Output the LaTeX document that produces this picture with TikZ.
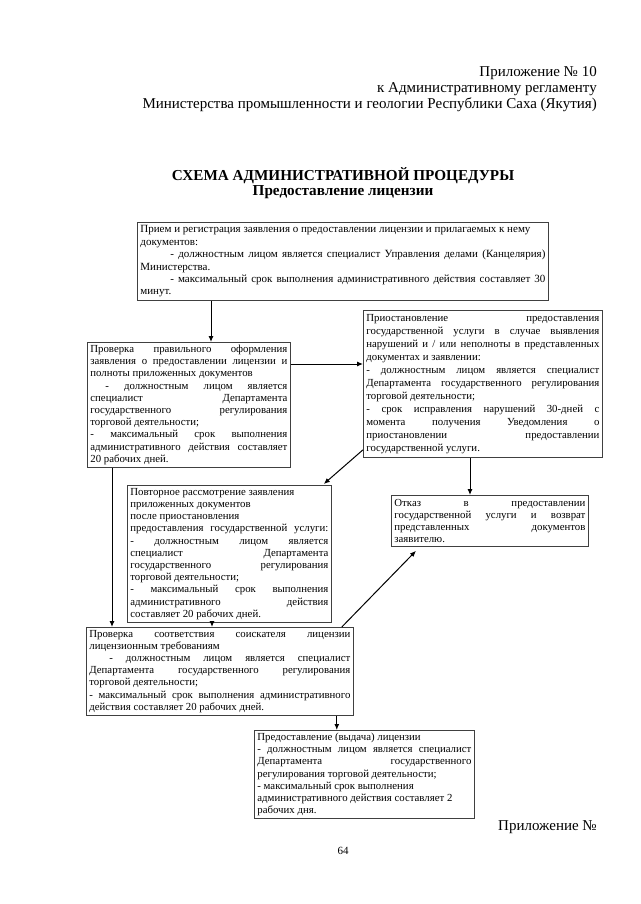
\documentclass[tikz,border=0pt]{standalone}
\usepackage{fontspec}
\setmainfont{Liberation Serif}
\usetikzlibrary{arrows.meta}
\newcommand{\jl}[1]{\makebox[\hsize][s]{\spaceskip=0pt\xspaceskip=0pt\relax #1}}
\begin{document}
\begin{tikzpicture}[x=1pt,y=-1pt,
  box/.style={draw=black!75, line width=0.8pt, anchor=north west, inner xsep=3pt, inner ysep=1pt, align=justify, font=\fontsize{10.8}{12.2}\selectfont},
  arr/.style={line width=1pt, -{Latex[length=6pt,width=5pt]}},
  head/.style={anchor=base east, inner sep=0pt, font=\fontsize{15}{16}\selectfont},
  ttl/.style={anchor=base, inner sep=0pt, font=\fontsize{15.2}{16}\selectfont\bfseries}]
\useasboundingbox (0,0) rectangle (640,904);
\fill[white] (0,0) rectangle (640,904);

\node[head] (h1) at (597,77) {Приложение № 10};
\node[head] (h2) at (597,93) {к Административному регламенту};
\node[head] (h3) at (597,109) {Министерства промышленности и геологии Республики Саха (Якутия)};

\node[ttl] (t1) at (343,180) {СХЕМА АДМИНИСТРАТИВНОЙ ПРОЦЕДУРЫ};
\node[ttl] (t2) at (343,196) {Предоставление лицензии};

\node[box, text width=405pt, minimum height=78pt, font=\fontsize{11}{12.4}\selectfont] (b1) at (137,222) {%
Прием и регистрация заявления  о предоставлении лицензии и прилагаемых к нему\\
документов:\\
\jl{\hspace*{30pt}- должностным лицом является специалист Управления делами (Канцелярия)}\\
Министерства.\\
\jl{\hspace*{30pt}- максимальный срок выполнения административного действия составляет 30}\\
минут.};

\node[box, text width=197pt, minimum height=125pt] (b2) at (87,342) {%
\jl{Проверка правильного оформления}\\
\jl{заявления о предоставлении лицензии и}\\
полноты приложенных документов\\
\jl{ - должностным лицом является}\\
\jl{специалист Департамента}\\
\jl{государственного регулирования}\\
торговой деятельности;\\
\jl{- максимальный срок выполнения}\\
\jl{административного действия составляет}\\
20 рабочих дней.};

\node[box, text width=233pt, minimum height=147pt, font=\fontsize{10.8}{13}\selectfont] (b3) at (363,310) {%
\jl{Приостановление предоставления}\\
\jl{государственной услуги в случае выявления}\\
\jl{нарушений и / или неполноты в представленных}\\
документах и заявлении:\\
\jl{-  должностным лицом является специалист}\\
\jl{Департамента государственного регулирования}\\
торговой деятельности;\\
\jl{- срок исправления нарушений 30-дней с}\\
\jl{момента получения Уведомления о}\\
\jl{приостановлении предоставлении}\\
государственной услуги.};

\node[box, text width=198pt, minimum height=137pt] (b4) at (127,485) {%
Повторное рассмотрение заявления\\
приложенных документов\\
после приостановления\\
\jl{предоставления государственной услуги:}\\
\jl{- должностным лицом является}\\
\jl{специалист Департамента}\\
\jl{государственного регулирования}\\
торговой деятельности;\\
\jl{- максимальный срок выполнения}\\
\jl{административного действия}\\
составляет 20 рабочих дней.};

\node[box, text width=191pt, minimum height=51pt] (b5) at (391,495) {%
\jl{Отказ в предоставлении}\\
\jl{государственной услуги и возврат}\\
\jl{представленных документов}\\
заявителю.};

\node[box, text width=261pt, minimum height=88pt] (b6) at (86,627) {%
\jl{Проверка соответствия соискателя лицензии}\\
лицензионным требованиям\\
\jl{\hspace*{20pt}- должностным лицом является специалист}\\
\jl{Департамента государственного регулирования}\\
торговой деятельности;\\
\jl{- максимальный срок выполнения административного}\\
действия составляет 20 рабочих дней.};

\node[box, text width=214pt, minimum height=88pt] (b7) at (254,730) {%
Предоставление (выдача)  лицензии\\
\jl{- должностным лицом является специалист}\\
\jl{Департамента государственного}\\
регулирования  торговой деятельности;\\
- максимальный срок выполнения\\
административного действия составляет 2\\
рабочих дня.};

\node[head] (h4) at (597,830) {Приложение №};
\node[anchor=base, inner sep=0pt, font=\fontsize{11}{12}\selectfont] (pg) at (343,854) {64};

\coordinate (p1) at ([xshift=74pt]b1.south west);
\coordinate (p2) at ([yshift=-22pt]b2.north east);
\coordinate (p3) at ([yshift=8pt]b3.south west);
\coordinate (p4) at ([xshift=-8pt,yshift=1pt]b4.north east);
\coordinate (p5) at ([xshift=107pt]b3.south west);
\coordinate (p6) at ([xshift=25pt]b2.south west);
\coordinate (p7) at ([xshift=85pt]b4.south west);
\coordinate (p8) at ([xshift=-12pt]b6.north east);
\coordinate (p9) at ([xshift=25pt,yshift=-4pt]b5.south west);
\coordinate (p10) at ([xshift=-17pt]b6.south east);

\draw[arr] (p1) -- (p1 |- b2.north);
\draw[arr] (p2) -- (p2 -| b3.west);
\draw[arr] (p3) -- (p4);
\draw[arr] (p5) -- (p5 |- b5.north);
\draw[arr] (p6) -- (p6 |- b6.north);
\draw[arr] (p7) -- (p7 |- b6.north);
\draw[arr] (p8) -- (p9);
\draw[arr] (p10) -- (p10 |- b7.north);
\end{tikzpicture}
\end{document}
